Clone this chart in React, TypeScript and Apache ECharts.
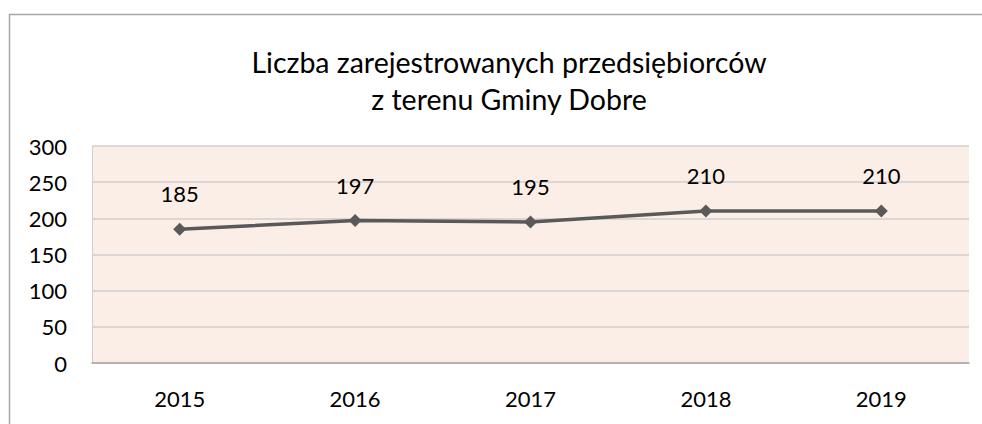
import React, { useEffect, useRef } from "react";
import * as echarts from "echarts";

const years = ["2015", "2016", "2017", "2018", "2019"];
const values = [185, 197, 195, 210, 210];
const titleLines = ["Liczba zarejestrowanych przedsiębiorców", "z terenu Gminy Dobre"];

export default function App() {
  const ref = useRef<HTMLDivElement>(null);
  useEffect(() => {
    const chart = echarts.init(ref.current!, null, { renderer: "svg" });
    const font = "Lato, 'Open Sans', sans-serif";
    chart.setOption({
      animation: false,
      backgroundColor: "#ffffff",
      title: {
        text: titleLines.join("\n"),
        left: 504,
        textAlign: "center",
        top: 38,
        textStyle: { fontFamily: font, fontSize: 28.5, fontWeight: "normal", color: "#000000", lineHeight: 37 },
      },
      graphic: [
        {
          type: "polyline",
          shape: { points: [[9.5, 424], [9.5, 14.5], [982, 14.5]] },
          style: { fill: "none", stroke: "#a6a6a6", lineWidth: 1.5 },
          silent: true,
        },
      ],
      grid: {
        left: 92,
        right: 13,
        top: 146,
        bottom: 61,
        show: true,
        backgroundColor: "#fbeee6",
        borderColor: "#d0cece",
        borderWidth: 0,
      },
      xAxis: {
        type: "category",
        data: years,
        boundaryGap: true,
        axisLine: { lineStyle: { color: "#a6a6a6", width: 1.5 } },
        axisTick: { show: false },
        axisLabel: { fontFamily: font, fontSize: 22, color: "#000000", margin: 24 },
      },
      yAxis: {
        type: "value",
        min: 0,
        max: 300,
        interval: 50,
        axisLine: { show: true, lineStyle: { color: "#d0cece", width: 1 } },
        axisTick: { show: false },
        splitLine: { lineStyle: { color: "#d0cece", width: 1.5 } },
        axisLabel: { fontFamily: font, fontSize: 22, color: "#000000", margin: 25 },
      },
      series: [
        {
          type: "line",
          data: values,
          symbol: "diamond",
          symbolSize: [13, 13],
          lineStyle: { color: "#595959", width: 3.5 },
          itemStyle: { color: "#595959" },
          label: {
            show: true,
            position: "top",
            distance: 18,
            fontFamily: font,
            fontSize: 22,
            color: "#000000",
          },
        },
      ],
    });
    return () => chart.dispose();
  }, []);
  return <div ref={ref} style={{ position: "absolute", left: 0, top: 0, width: 982, height: 424 }} />;
}
